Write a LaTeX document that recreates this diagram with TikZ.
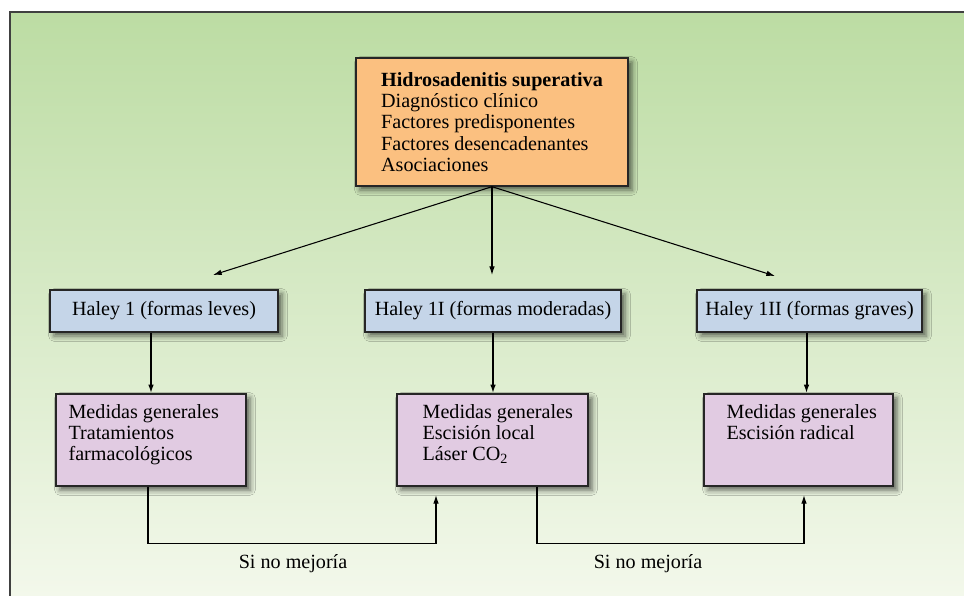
\documentclass[tikz,border=0pt]{standalone}
\usepackage{fontspec}
\setmainfont{Liberation Serif}
\usetikzlibrary{positioning,calc,arrows.meta,shadows.blur}

\definecolor{bgtop}{RGB}{188,220,163}
\definecolor{bgbot}{RGB}{243,248,235}
\definecolor{hsfill}{RGB}{251,192,128}
\definecolor{haleyfill}{RGB}{197,213,232}
\definecolor{medfill}{RGB}{225,203,226}

\begin{document}
\begin{tikzpicture}[x=0.75pt,y=-0.75pt,>={Latex[length=6.5pt,width=4.2pt]},
    every node/.style={font=\fontsize{15.1}{15.9}\selectfont},
    card/.style={draw=black!85,line width=1pt,
        blur shadow={shadow xshift=3pt,shadow yshift=-3pt,shadow blur radius=4pt,shadow opacity=60}},
    hsbox/.style={card,fill=hsfill,align=left,minimum width=204pt,minimum height=96pt},
    haleybox/.style={card,fill=haleyfill,minimum height=31.5pt},
    medbox/.style={card,fill=medfill,minimum height=69pt},
    medtext/.style={anchor=north west,align=left,inner sep=0pt},
    branch/.style={->,line width=0.8pt},
    down/.style={->,line width=1.5pt},
    back/.style={->,line width=0.9pt}]

    % fondo
    \useasboundingbox (0,0) rectangle (964,596);
    \shade[top color=bgtop,bottom color=bgbot] (10,12) rectangle (964,596);
    \draw[line width=1.5pt,black!75] (10,596) -- (10,12) -- (964,12);

    % cuadro principal
    \node[hsbox] (hs) at (492,122) {\textbf{Hidrosadenitis superativa}\\Diagnóstico clínico\\Factores predisponentes\\Factores desencadenantes\\Asociaciones};

    % estadios de Haley
    \node[haleybox,minimum width=171pt] (h1) at (164,311) {Haley 1 (formas leves)};
    \node[haleybox,minimum width=192pt] (h2) at (493,311) {Haley 1I (formas moderadas)};
    \node[haleybox,minimum width=168.75pt] (h3) at (809.5,311) {Haley 1II (formas graves)};

    \coordinate (e1) at (213,275);
    \coordinate (e3) at (775,276);
    \draw[branch] (hs.south) -- (e1);
    \draw[branch] (hs.south) -- ($(hs.south |- e1)$);
    \draw[branch] (hs.south) -- (e3);

    % tratamientos
    \node[medbox,minimum width=142.5pt] (m1) at (151,440) {};
    \node[medbox,minimum width=143.25pt] (m2) at (492.5,440) {};
    \node[medbox,minimum width=141.75pt] (m3) at (798.5,440) {};
    \node[medtext] (m1t) at ($(m1.north west)+(13,11)$) {Medidas generales\\Tratamientos\\farmacológicos};
    \node[medtext] (m2t) at ($(m2.north west)+(26,11)$) {Medidas generales\\Escisión local\\Láser CO\textsubscript{2}};
    \node[medtext] (m3t) at ($(m3.north west)+(23,11)$) {Medidas generales\\Escisión radical};

    \draw[down] (m1.north |- h1.south) -- (m1.north);
    \draw[down] (h2.south) -- (h2.south |- m2.north);
    \draw[down] ($(h3.south)+(-3,0)$) -- ($(h3.south |- m3.north)+(-3,0)$);

    % si no mejoria
    \coordinate (up2) at (436,495);
    \coordinate (up3) at (804,495);
    \draw[back] ($(m1.south)+(-3,0)$) -- ++(0,57) -| (up2);
    \draw[back] ($(m2.south)+(44.5,0)$) -- ++(0,57) -| (up3);
    \node (nm1) at (293,564) {Si no mejoría};
    \node (nm2) at (648,564) {Si no mejoría};

\end{tikzpicture}
\end{document}
